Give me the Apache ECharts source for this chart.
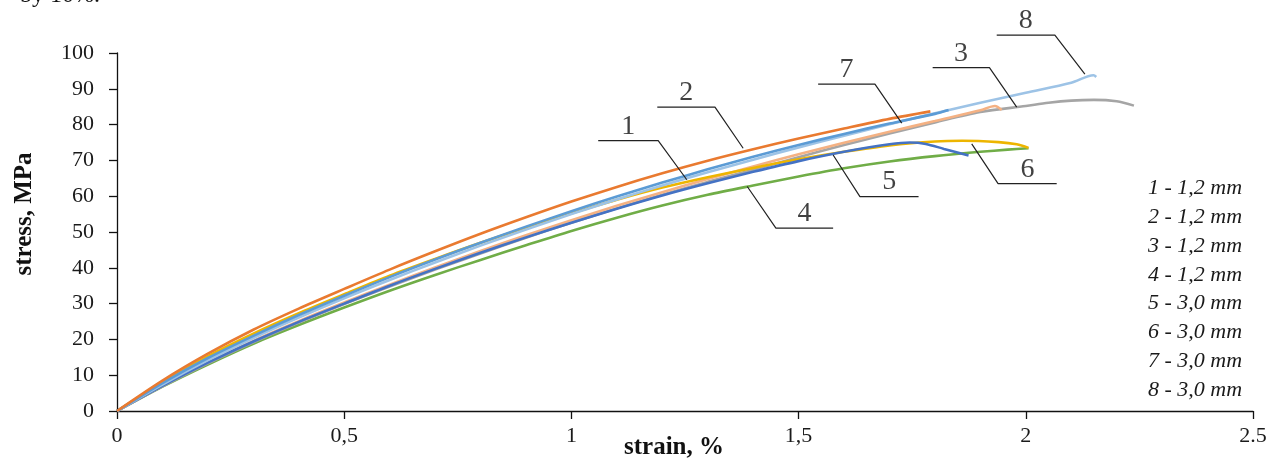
<!DOCTYPE html>
<html>
<head>
<meta charset="utf-8">
<script src="https://cdn.jsdelivr.net/npm/echarts@6/dist/echarts.min.js"></script>
<style>
html,body{margin:0;padding:0;background:#fff;}
#chart{width:1277px;height:463px;}
</style>
</head>
<body>
<div id="chart"></div>
<script>
// ---- data (strain %, stress MPa) ----
const xTickLabels = ['0', '0,5', '1', '1,5', '2', '2.5'];
const yTicks = [0, 10, 20, 30, 40, 50, 60, 70, 80, 90, 100];
const legendLines = ['1 - 1,2 mm', '2 - 1,2 mm', '3 - 1,2 mm', '4 - 1,2 mm', '5 - 3,0 mm', '6 - 3,0 mm', '7 - 3,0 mm', '8 - 3,0 mm'];

const s1 = [[0,0],[0.1,7.8],[0.2,14.8],[0.3,21],[0.4,26.8],[0.5,32.2],[0.6,37.4],[0.7,42.3],[0.8,47],[0.9,51.5],[1.0,55.8],[1.1,59.9],[1.2,63.8],[1.3,67.5],[1.4,71],[1.5,74.3],[1.6,77.4],[1.7,80.3],[1.8,83],[1.83,84.1]];
const s2 = [[0,0],[0.1,8.5],[0.2,16],[0.3,22.7],[0.4,28.6],[0.5,34.1],[0.6,39.5],[0.7,44.6],[0.8,49.5],[0.9,54.1],[1.0,58.5],[1.1,62.6],[1.2,66.4],[1.3,69.9],[1.4,73.1],[1.5,76.1],[1.6,78.9],[1.7,81.6],[1.79,83.7]];
const s3 = [[0,0],[0.1,6.9],[0.2,13.3],[0.3,19.2],[0.4,24.7],[0.5,29.9],[0.6,34.8],[0.7,39.5],[0.8,44],[0.9,48.4],[1.0,52.6],[1.1,56.6],[1.2,60.4],[1.3,64],[1.4,67.4],[1.5,70.9],[1.6,74.3],[1.7,77.5],[1.8,80.6],[1.9,83.5],[2.0,85.2],[2.05,86.1],[2.1,86.7],[2.15,86.9],[2.2,86.5],[2.238,85.3]];
const s4 = [[0,0],[0.1,6.8],[0.2,13],[0.3,18.8],[0.4,24],[0.5,28.9],[0.6,33.6],[0.7,38],[0.8,42.2],[0.9,46.3],[1.0,50.3],[1.1,54],[1.2,57.4],[1.3,60.4],[1.4,63],[1.5,65.5],[1.6,67.8],[1.7,69.7],[1.8,71.2],[1.9,72.4],[1.96,73],[2.006,73.4]];
const s5 = [[0,0],[0.1,7],[0.2,13.5],[0.3,19.4],[0.4,24.9],[0.5,30],[0.6,35],[0.7,39.7],[0.8,44.2],[0.9,48.5],[1.0,52.6],[1.1,56.5],[1.2,60.2],[1.3,63.6],[1.4,66.8],[1.5,69.8],[1.6,72.4],[1.7,74.5],[1.745,75],[1.78,74.6],[1.82,73.2],[1.874,71.4]];
const s6 = [[0,0],[0.1,8],[0.2,15.3],[0.3,21.6],[0.4,27.3],[0.5,32.6],[0.6,37.8],[0.7,42.5],[0.8,47],[0.9,51.2],[1.0,55.2],[1.1,59],[1.2,62.4],[1.3,65.3],[1.4,67.9],[1.5,70.3],[1.6,72.4],[1.7,74.2],[1.8,75.3],[1.86,75.5],[1.94,75.1],[1.98,74.5],[2.006,73.5]];
const s7 = [[0,0],[0.1,7.1],[0.2,13.6],[0.3,19.6],[0.4,25.1],[0.5,30.3],[0.6,35.3],[0.7,40.1],[0.8,44.7],[0.9,49.1],[1.0,53.3],[1.1,57.3],[1.2,61.1],[1.3,64.8],[1.4,68.3],[1.5,71.7],[1.6,74.9],[1.7,78],[1.8,81],[1.9,84],[1.932,85.2],[1.947,84.1]];
const s8 = [[0,0],[0.1,7.4],[0.2,14.2],[0.3,20.4],[0.4,26.1],[0.5,31.5],[0.6,36.6],[0.7,41.5],[0.8,46.2],[0.9,50.7],[1.0,55],[1.1,59.1],[1.2,63],[1.3,66.7],[1.4,70.2],[1.5,73.6],[1.6,76.9],[1.7,80.1],[1.8,83.2],[1.9,86.1],[2.0,88.9],[2.1,91.7],[2.149,93.8],[2.155,93.3]];

// callout leader lines (data coordinates); label sits above the horizontal segment
const callouts = [
  {label:'1', seg:[[1.059,75.5],[1.191,75.5]], tip:[1.254,64.6]},
  {label:'2', seg:[[1.189,84.9],[1.316,84.9]], tip:[1.378,73.4]},
  {label:'7', seg:[[1.543,91.3],[1.668,91.3]], tip:[1.727,80.4]},
  {label:'3', seg:[[1.795,95.9],[1.920,95.9]], tip:[1.980,84.9]},
  {label:'8', seg:[[1.936,105.0],[2.064,105.0]], tip:[2.130,94.1]},
  {label:'6', seg:[[1.939,63.5],[2.068,63.5]], tip:[1.881,74.6]},
  {label:'5', seg:[[1.635,59.9],[1.764,59.9]], tip:[1.576,71.5]},
  {label:'4', seg:[[1.450,51.1],[1.576,51.1]], tip:[1.387,62.7]}
];

const curveSeries = [
  {d:s4, c:'#70AD47'},
  {d:s3, c:'#A5A5A5'},
  {d:s7, c:'#F4B183'},
  {d:s6, c:'#EDB500'},
  {d:s5, c:'#4472C4'},
  {d:s8, c:'#9DC3E6'},
  {d:s1, c:'#5B9BD5'},
  {d:s2, c:'#E97A30'}
].map(o => ({
  type:'line', data:o.d, showSymbol:false, symbol:'none', smooth:0.3,
  lineStyle:{color:o.c, width:2.6}, z:2, silent:true
}));

const calloutSeries = callouts.map(c => {
  const a = c.seg[0], b = c.seg[1];
  const tipNearA = Math.abs(c.tip[0]-a[0]) < Math.abs(c.tip[0]-b[0]);
  const data = tipNearA ? [c.tip, a, b] : [a, b, c.tip];
  return {type:'line', data, showSymbol:false, symbol:'none', clip:false, silent:true,
    lineStyle:{color:'#222', width:1.2}, z:3};
});

const calloutLabels = {
  type:'scatter', clip:false, silent:true, z:4,
  symbol:'circle', symbolSize:1, itemStyle:{color:'rgba(0,0,0,0)'},
  label:{show:true, position:'top', distance:0, formatter:p => p.name,
    fontFamily:'Liberation Serif', fontSize:28, color:'#111'},
  data: callouts.map(c => ({name:c.label, value:[(c.seg[0][0]+c.seg[1][0])/2, c.seg[0][1]]}))
};

const chart = echarts.init(document.getElementById('chart'), null, {renderer:'canvas'});
chart.setOption({
  animation:false,
  backgroundColor:'#fff',
  grid:{left:117, right:24, top:53, bottom:52, containLabel:false, outerBoundsMode:'none'},
  xAxis:{
    type:'value', min:0, max:2.5, interval:0.5,
    axisLine:{show:true, onZero:false, lineStyle:{color:'#111', width:1.3}},
    axisTick:{show:true, inside:false, length:8, lineStyle:{color:'#111', width:1.3}},
    splitLine:{show:false},
    axisLabel:{margin:14, fontFamily:'Liberation Serif', fontSize:22, color:'#1a1a1a',
      formatter:v => xTickLabels[Math.round(v/0.5)]},
    name:'strain, %', nameLocation:'middle', nameGap:24, nameMoveOverlap:false,
    nameTextStyle:{fontFamily:'Liberation Serif', fontWeight:'bold', fontSize:25, color:'#111', padding:[0,22,0,0]}
  },
  yAxis:{
    type:'value', min:0, max:100, interval:10,
    axisLine:{show:true, onZero:false, lineStyle:{color:'#111', width:1.3}},
    axisTick:{show:true, inside:false, length:8, lineStyle:{color:'#111', width:1.3}},
    splitLine:{show:false},
    axisLabel:{margin:23, fontFamily:'Liberation Serif', fontSize:22, color:'#1a1a1a',
      formatter:v => (yTicks.indexOf(v) >= 0 ? String(v) : '')},
    name:'stress, MPa', nameLocation:'middle', nameGap:80, nameRotate:90, nameMoveOverlap:false,
    nameTextStyle:{fontFamily:'Liberation Serif', fontWeight:'bold', fontSize:25, color:'#111', padding:[0,0,0,36]}
  },
  graphic:[
    {type:'text', left:1148, top:174, silent:true,
     style:{text:legendLines.join('\n'), fontFamily:'Liberation Serif', fontStyle:'italic', fontSize:22,
       lineHeight:28.8, fill:'#1a1a1a'}},
    {type:'text', left:20, top:-16, silent:true,
     style:{text:'by 10%.', fontFamily:'Liberation Serif', fontSize:24, fill:'#111'}}
  ],
  series: curveSeries.concat(calloutSeries, [calloutLabels])
});
</script>
</body>
</html>
